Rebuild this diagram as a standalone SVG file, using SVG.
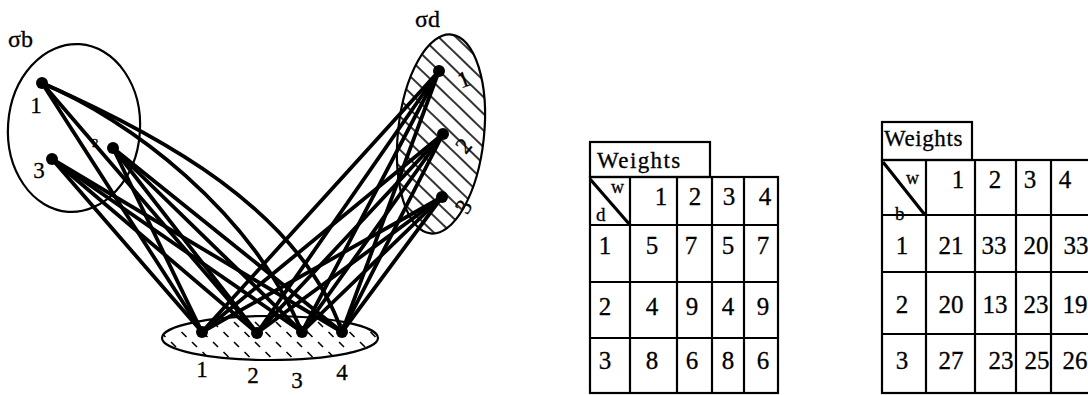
<svg xmlns="http://www.w3.org/2000/svg" width="1088" height="395" viewBox="0 0 1088 395">
<style>
  .t { font-family: "Liberation Serif", "Times New Roman", serif; fill: #000; stroke: #000; stroke-width: 0.3; }
  .num { font-size: 25px; text-anchor: middle; }
  .lbl { font-size: 23px; text-anchor: middle; }
  .edge { stroke: #000; stroke-width: 3.8; fill: none; stroke-linecap: round; }
  .grid { stroke: #000; stroke-width: 2.2; fill: none; }
  .ell { stroke: #000; stroke-width: 2.2; }
</style>
<defs>
  <pattern id="hatchD" patternUnits="userSpaceOnUse" width="12" height="12" patternTransform="rotate(38)">
    <line x1="0" y1="6" x2="12" y2="6" stroke="#000" stroke-width="1.6"/>
  </pattern>
  <pattern id="hatchW" patternUnits="userSpaceOnUse" width="21" height="20">
    <line x1="3" y1="2" x2="8" y2="7" stroke="#000" stroke-width="1.6"/>
    <line x1="13.5" y1="12" x2="18.5" y2="17" stroke="#000" stroke-width="1.6"/>
  </pattern>
</defs>
<rect width="1088" height="395" fill="#fff"/>

<!-- sets -->
<g id="set-b">
  <ellipse class="ell" cx="74" cy="128" rx="66" ry="84" fill="none" transform="rotate(4 74 128)"/>
  <text class="t" x="8" y="47" font-size="24">σb</text>
</g>
<g id="set-d">
  <ellipse class="ell" cx="441" cy="134" rx="43" ry="100" fill="url(#hatchD)" transform="rotate(6 441 134)"/>
  <text class="t" x="415" y="27" font-size="24">σd</text>
</g>
<g id="set-w">
  <ellipse class="ell" cx="270" cy="338" rx="108" ry="22" fill="url(#hatchW)"/>
</g>

<!-- connectors -->
<g id="connectors">
  <!-- b1 -->
  <line class="edge" x1="42" y1="83" x2="202" y2="332"/>
  <line class="edge" x1="42" y1="83" x2="257" y2="333"/>
  <path class="edge" d="M42,83 C130,120 250,210 302,332"/>
  <path class="edge" d="M42,83 C160,135 300,210 342,332"/>
  <!-- b2 -->
  <line class="edge" x1="113" y1="148" x2="202" y2="332"/>
  <line class="edge" x1="113" y1="148" x2="257" y2="333"/>
  <line class="edge" x1="113" y1="148" x2="302" y2="332"/>
  <line class="edge" x1="113" y1="148" x2="342" y2="332"/>
  <!-- b3 -->
  <line class="edge" x1="52" y1="159" x2="202" y2="332"/>
  <line class="edge" x1="52" y1="159" x2="257" y2="333"/>
  <line class="edge" x1="52" y1="159" x2="302" y2="332"/>
  <line class="edge" x1="52" y1="159" x2="342" y2="332"/>
  <!-- d1 -->
  <line class="edge" x1="439" y1="71" x2="202" y2="332"/>
  <line class="edge" x1="439" y1="71" x2="257" y2="333"/>
  <line class="edge" x1="439" y1="71" x2="302" y2="332"/>
  <line class="edge" x1="439" y1="71" x2="342" y2="332"/>
  <!-- d2 -->
  <line class="edge" x1="443" y1="134" x2="202" y2="332"/>
  <line class="edge" x1="443" y1="134" x2="257" y2="333"/>
  <line class="edge" x1="443" y1="134" x2="302" y2="332"/>
  <line class="edge" x1="443" y1="134" x2="342" y2="332"/>
  <!-- d3 -->
  <line class="edge" x1="442" y1="197" x2="202" y2="332"/>
  <line class="edge" x1="442" y1="197" x2="257" y2="333"/>
  <line class="edge" x1="442" y1="197" x2="302" y2="332"/>
  <line class="edge" x1="442" y1="197" x2="342" y2="332"/>
</g>

<!-- nodes -->
<g id="b1"><circle cx="42" cy="83" r="6"/><text class="t lbl" x="36" y="113">1</text></g>
<g id="b2"><circle cx="113" cy="148" r="6"/><text class="t" x="92" y="147" font-size="13">2</text></g>
<g id="b3"><circle cx="52" cy="159" r="6"/><text class="t lbl" x="39" y="178">3</text></g>
<g id="d1"><circle cx="439" cy="71" r="6"/><text class="t lbl" transform="translate(464 80) rotate(-20)" x="0" y="7">1</text></g>
<g id="d2"><circle cx="443" cy="134" r="6"/><text class="t lbl" transform="translate(464 146) rotate(-50)" x="0" y="7">2</text></g>
<g id="d3"><circle cx="442" cy="197" r="6"/><text class="t lbl" transform="translate(464 207) rotate(-60)" x="0" y="7">3</text></g>
<g id="w1"><circle cx="202" cy="332" r="6"/><text class="t lbl" x="202" y="377">1</text></g>
<g id="w2"><circle cx="257" cy="333" r="6"/><text class="t lbl" x="253" y="383">2</text></g>
<g id="w3"><circle cx="302" cy="332" r="6"/><text class="t lbl" x="297" y="388">3</text></g>
<g id="w4"><circle cx="342" cy="332" r="6"/><text class="t lbl" x="342" y="380">4</text></g>

<!-- table d x w -->
<g id="table-d">
  <rect class="grid" x="590" y="142" width="120" height="35"/>
  <text class="t" x="597" y="168" font-size="23" letter-spacing="1.4">Weights</text>
  <rect class="grid" x="590" y="177" width="188" height="216"/>
  <line class="grid" x1="630" y1="177" x2="630" y2="393"/>
  <line class="grid" x1="677" y1="177" x2="677" y2="393"/>
  <line class="grid" x1="712" y1="177" x2="712" y2="393"/>
  <line class="grid" x1="744" y1="177" x2="744" y2="393"/>
  <line class="grid" x1="590" y1="225" x2="778" y2="225"/>
  <line class="grid" x1="590" y1="282" x2="778" y2="282"/>
  <line class="grid" x1="590" y1="338" x2="778" y2="338"/>
  <line x1="590" y1="179" x2="630" y2="225" stroke="#000" stroke-width="3.2"/>
  <text class="t" x="611" y="193" font-size="18">w</text>
  <text class="t" x="596" y="221" font-size="19">d</text>
  <text class="t num" x="661" y="205">1</text>
  <text class="t num" x="695" y="205">2</text>
  <text class="t num" x="729" y="205">3</text>
  <text class="t num" x="765" y="205">4</text>
  <text class="t num" x="605" y="254">1</text>
  <text class="t num" x="652" y="254">5</text>
  <text class="t num" x="691" y="254">7</text>
  <text class="t num" x="728" y="254">5</text>
  <text class="t num" x="763" y="254">7</text>
  <text class="t num" x="605" y="315">2</text>
  <text class="t num" x="652" y="315">4</text>
  <text class="t num" x="692" y="315">9</text>
  <text class="t num" x="728" y="315">4</text>
  <text class="t num" x="763" y="315">9</text>
  <text class="t num" x="605" y="369">3</text>
  <text class="t num" x="652" y="369">8</text>
  <text class="t num" x="692" y="369">6</text>
  <text class="t num" x="728" y="369">8</text>
  <text class="t num" x="763" y="369">6</text>
</g>

<!-- table b x w -->
<g id="table-b">
  <rect class="grid" x="882" y="122" width="90" height="38"/>
  <text class="t" x="884" y="146" font-size="23" letter-spacing="0.6">Weights</text>
  <rect class="grid" x="882" y="160" width="220" height="233"/>
  <line class="grid" x1="926" y1="160" x2="926" y2="393"/>
  <line class="grid" x1="975" y1="160" x2="975" y2="393"/>
  <line class="grid" x1="1016" y1="160" x2="1016" y2="393"/>
  <line class="grid" x1="1051" y1="160" x2="1051" y2="393"/>
  <line class="grid" x1="882" y1="215" x2="1088" y2="215"/>
  <line class="grid" x1="882" y1="272" x2="1088" y2="272"/>
  <line class="grid" x1="882" y1="334" x2="1088" y2="334"/>
  <line x1="883" y1="162" x2="925" y2="215" stroke="#000" stroke-width="3.2"/>
  <text class="t" x="906" y="184" font-size="18">w</text>
  <text class="t" x="895" y="220" font-size="19">b</text>
  <text class="t num" x="958" y="188">1</text>
  <text class="t num" x="995" y="188">2</text>
  <text class="t num" x="1030" y="188">3</text>
  <text class="t num" x="1065" y="188">4</text>
  <text class="t num" x="902" y="254">1</text>
  <text class="t num" x="951" y="254">21</text>
  <text class="t num" x="994" y="254">33</text>
  <text class="t num" x="1036" y="254">20</text>
  <text class="t num" x="1076" y="254">33</text>
  <text class="t num" x="902" y="313">2</text>
  <text class="t num" x="951" y="313">20</text>
  <text class="t num" x="995" y="313">13</text>
  <text class="t num" x="1036" y="313">23</text>
  <text class="t num" x="1075" y="313">19</text>
  <text class="t num" x="902" y="369">3</text>
  <text class="t num" x="951" y="369">27</text>
  <text class="t num" x="1001" y="369">23</text>
  <text class="t num" x="1037" y="369">25</text>
  <text class="t num" x="1075" y="369">26</text>
</g>
</svg>
